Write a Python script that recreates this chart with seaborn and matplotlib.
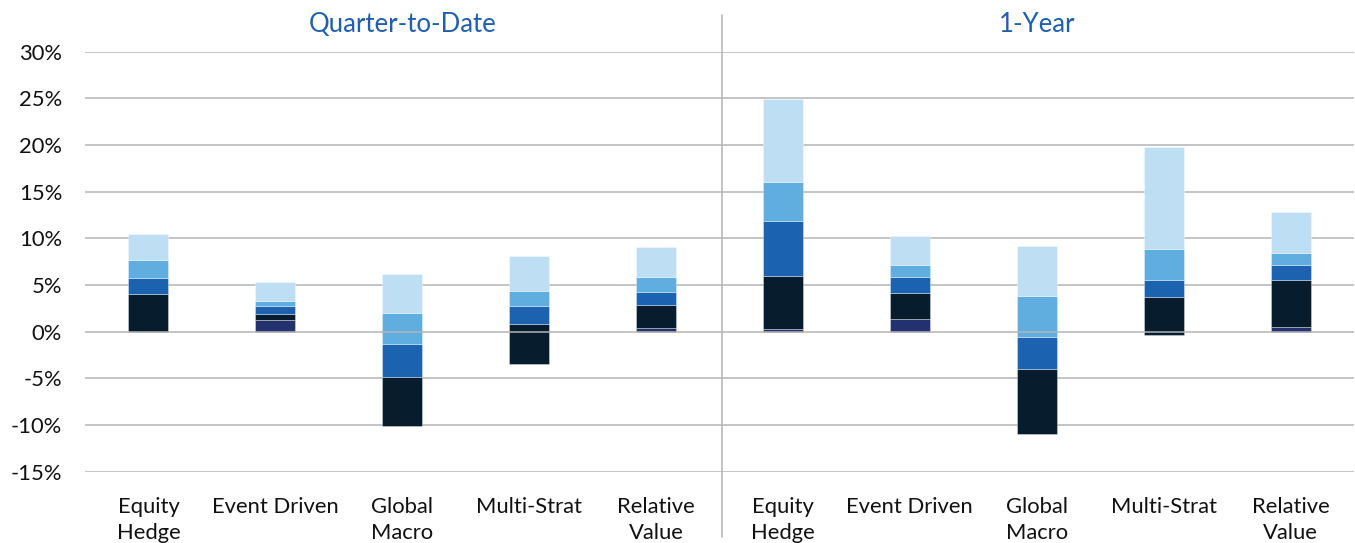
import numpy as np
import pandas as pd
import matplotlib
matplotlib.use("Agg")
import matplotlib.pyplot as plt
from matplotlib.lines import Line2D
import seaborn as sns

# ---------------- data ----------------
periods = ["Quarter-to-Date", "1-Year"]
strategies = ["Equity\nHedge", "Event Driven", "Global\nMacro", "Multi-Strat", "Relative\nValue"]

# bottom of each bar (where stacking starts), QTD then 1-Year
bar_floor = [0.0, 0.0, -10.07, -3.49, 0.0,
             0.0, 0.0, -10.96, -0.35, 0.0]
# segment heights (bottom to top)
navy  = [0.00, 1.22, 0.00, 0.00, 0.40,
         0.26, 1.33, 0.00, 0.00, 0.47]
dark  = [4.04, 0.71, 5.25, 4.28, 2.49,
         5.71, 2.85, 7.00, 4.04, 5.07]
blue  = [1.75, 0.82, 3.53, 2.00, 1.33,
         5.92, 1.71, 3.42, 1.85, 1.64]
mid   = [1.89, 0.54, 3.33, 1.57, 1.67,
         4.18, 1.29, 4.40, 3.29, 1.28]
light = [2.76, 2.04, 4.14, 3.78, 3.22,
         8.86, 3.07, 5.32, 10.99, 4.37]

series = [navy, dark, blue, mid, light]
colors = ["#23316f", "#071d2d", "#1b62b0", "#60ade0", "#bedff3"]
yticks = [-15, -10, -5, 0, 5, 10, 15, 20, 25, 30]

# ---------------- style ----------------
sns.set_theme(style="white")
plt.rcParams["font.family"] = ["Lato", "DejaVu Sans"]

W, H = 1355, 543
fig = plt.figure(figsize=(W / 100, H / 100), dpi=100)
ax_left, ax_right = 85 / W, 1354 / W
ax_top, ax_bot = 51.7 / H, 471.7 / H
ax = fig.add_axes([ax_left, 1 - ax_bot, ax_right - ax_left, ax_bot - ax_top])

keys = [f"{p}|{s}" for p in periods for s in strategies]
labels = [s for p in periods for s in strategies]

grid_c = "#b4b4b4"
for y in yticks:
    if y != 0:
        ax.axhline(y, color=grid_c, lw=1.1, zorder=0)

bottom = np.array(bar_floor, dtype=float)
for vals, c in zip(series, colors):
    df = pd.DataFrame({"cat": keys, "val": vals})
    sns.barplot(data=df, x="cat", y="val", order=keys, bottom=bottom.copy(),
                color=c, saturation=1, width=0.315, ax=ax,
                edgecolor=(1, 1, 1, 0.5), linewidth=0.5, zorder=2)
    bottom = bottom + np.array(vals)

ax.axhline(0, color=grid_c, lw=1.1, zorder=4)

ax.set_xlim(-0.5, 9.5)
ax.set_ylim(-15, 30)
ax.set_yticks(yticks)
ax.set_yticklabels([f"{v}%" for v in yticks])
ax.set_xticks(range(len(keys)))
ax.set_xticklabels(labels, linespacing=1.42)
ax.set_xlabel("")
ax.set_ylabel("")
for s in ax.spines.values():
    s.set_visible(False)
ax.tick_params(axis="y", length=0, pad=16.5, labelsize=15.8, labelcolor="#111111")
ax.tick_params(axis="x", length=0, pad=18, labelsize=15.8, labelcolor="#111111")
ax.grid(False)

# period titles
title_c = "#1f5fad"
for i, p in enumerate(periods):
    ax.text(2 + 5 * i, 1 + (51.7 - 25) / 420, p, transform=ax.get_xaxis_transform(),
            ha="center", va="center", fontsize=18.5, color=title_c)

# divider between periods
xd = 721.7 / W
fig.add_artist(Line2D([xd, xd], [1 - 15 / H, 1 - 537 / H], color=grid_c, lw=1.1))

fig.savefig("out.png", dpi=100)
